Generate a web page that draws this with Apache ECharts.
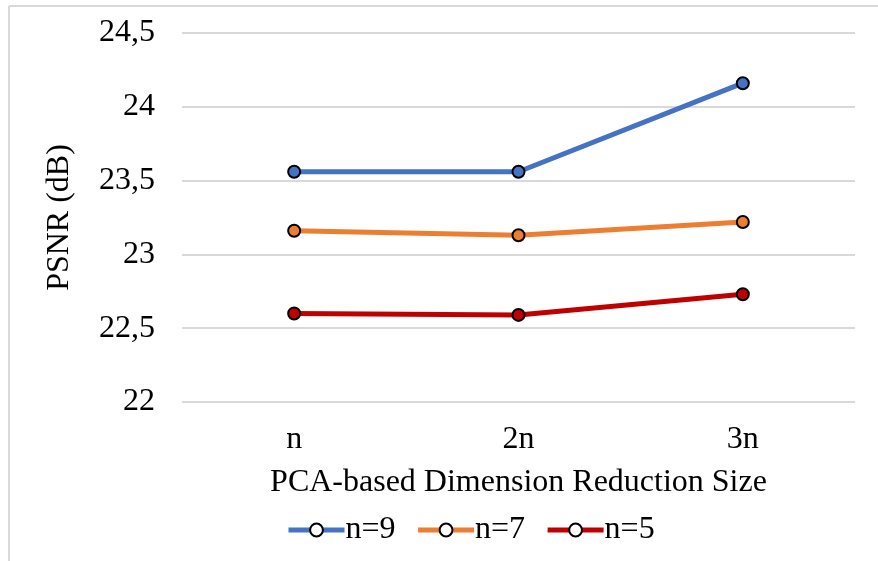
<!DOCTYPE html>
<html>
<head>
<meta charset="utf-8">
<script src="https://cdn.jsdelivr.net/npm/echarts@6/dist/echarts.min.js"></script>
<style>
  html, body { margin: 0; padding: 0; background: #fff; }
  #chart { width: 878px; height: 561px; }
</style>
</head>
<body>
<div id="chart"></div>
<script>
// PSNR per PCA reduction size, one line per window size n
const categories = ['n', '2n', '3n'];
const seriesNames = ['n=9', 'n=7', 'n=5'];
const psnrN9 = [23.56, 23.56, 24.16];
const psnrN7 = [23.16, 23.13, 23.22];
const psnrN5 = [22.60, 22.59, 22.73];
const colors = ['#4472C4', '#ED7D31', '#C00000'];

const serif = '"Liberation Serif", "Times New Roman", serif';
const fontSize = 32;

const chart = echarts.init(document.getElementById('chart'));

function lineSeries(name, data, color) {
  return {
    name: name,
    type: 'line',
    data: data,
    symbol: 'circle',
    symbolSize: 12,
    lineStyle: { color: color, width: 5 },
    itemStyle: { color: color, borderColor: '#000', borderWidth: 2 },
    emphasis: { disabled: true }
  };
}

chart.setOption({
  animation: false,
  backgroundColor: '#fff',
  graphic: [
    { type: 'line', shape: { x1: 9, y1: 6, x2: 878, y2: 6 }, style: { stroke: '#d9d9d9', lineWidth: 2 } },
    { type: 'line', shape: { x1: 9, y1: 6, x2: 9, y2: 561 }, style: { stroke: '#d9d9d9', lineWidth: 2 } }
  ],
  grid: { left: 182, right: 23, top: 33, bottom: 159 },
  xAxis: {
    type: 'category',
    data: categories,
    boundaryGap: true,
    axisLine: { show: false },
    axisTick: { show: false },
    axisLabel: { color: '#000', fontFamily: serif, fontSize: fontSize, margin: 22 },
    name: 'PCA-based Dimension Reduction Size',
    nameLocation: 'middle',
    nameGap: 65,
    nameTextStyle: { color: '#000', fontFamily: serif, fontSize: fontSize }
  },
  yAxis: {
    type: 'value',
    min: 22,
    max: 24.5,
    interval: 0.5,
    axisLine: { show: false },
    axisTick: { show: false },
    splitLine: { lineStyle: { color: '#d9d9d9', width: 2 } },
    axisLabel: {
      color: '#000', fontFamily: serif, fontSize: fontSize, margin: 27,
      formatter: v => String(v).replace('.', ',')
    },
    name: 'PSNR (dB)',
    nameLocation: 'middle',
    nameGap: 106,
    nameTextStyle: { color: '#000', fontFamily: serif, fontSize: fontSize }
  },
  legend: {
    data: seriesNames.map((n, i) => ({
      name: n,
      itemStyle: { color: '#fff', borderColor: '#000', borderWidth: 2 },
      lineStyle: { color: colors[i], width: 5 }
    })),
    left: 281,
    top: 509,
    itemWidth: 56,
    itemHeight: 16,
    itemGap: 20,
    textStyle: { color: '#000', fontFamily: serif, fontSize: fontSize, padding: [0, 0, 0, -4] }
  },
  series: [
    lineSeries(seriesNames[0], psnrN9, colors[0]),
    lineSeries(seriesNames[1], psnrN7, colors[1]),
    lineSeries(seriesNames[2], psnrN5, colors[2])
  ]
});
</script>
</body>
</html>
